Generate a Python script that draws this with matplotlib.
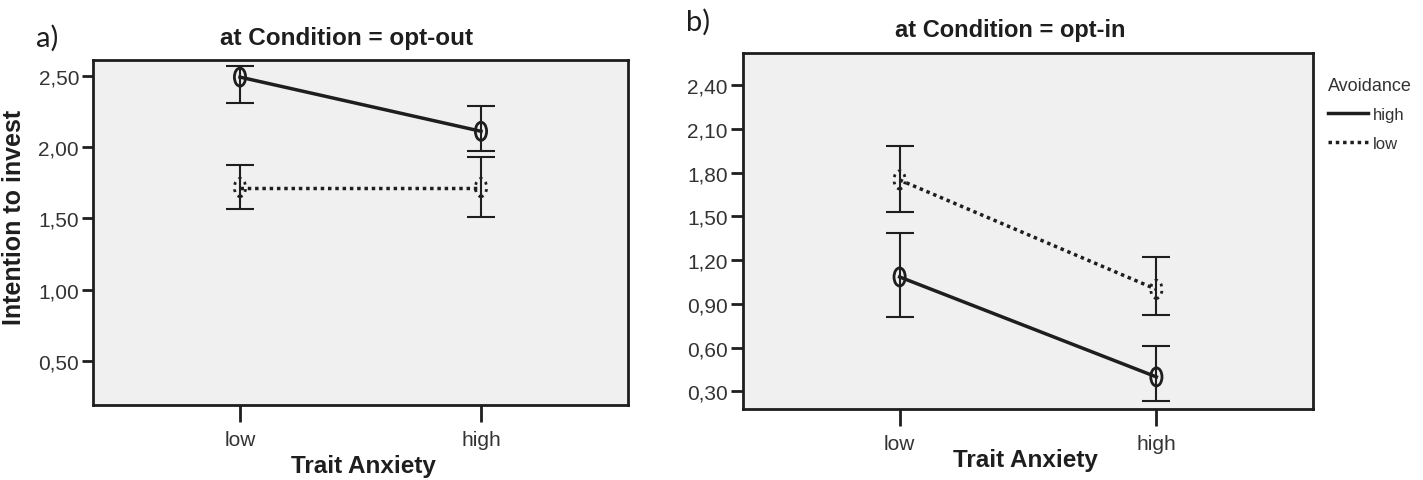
import matplotlib.pyplot as plt
from matplotlib.lines import Line2D
from matplotlib.path import Path

# categories on the x axis
anxiety = ["low", "high"]

# panel a) opt-out: means and error bar ends, per avoidance group
out_high_mean = [2.49, 2.11]
out_high_lo = [2.31, 1.97]
out_high_hi = [2.57, 2.29]
out_low_mean = [1.715, 1.715]
out_low_lo = [1.565, 1.51]
out_low_hi = [1.875, 1.93]

# panel b) opt-in
in_high_mean = [1.085, 0.40]
in_high_lo = [0.81, 0.235]
in_high_hi = [1.385, 0.615]
in_low_mean = [1.75, 1.00]
in_low_lo = [1.53, 0.825]
in_low_hi = [1.98, 1.225]

yticks_a = [0.5, 1.0, 1.5, 2.0, 2.5]
ylabels_a = ["0,50", "1,00", "1,50", "2,00", "2,50"]
yticks_b = [0.3, 0.6, 0.9, 1.2, 1.5, 1.8, 2.1, 2.4]
ylabels_b = ["0,30", "0,60", "0,90", "1,20", "1,50", "1,80", "2,10", "2,40"]

W, H = 1423, 481
ink = "#1e1e1e"
grey_txt = "#333333"
bg = "#eff0ef"
plt.rcParams["font.family"] = ["Liberation Sans", "DejaVu Sans"]

# tall open ellipse like the SPSS markers
circ = Path.unit_circle()
ellipse = Path(circ.vertices * [0.62, 1.0], circ.codes)

fig = plt.figure(figsize=(W / 100, H / 100), dpi=100)


def box(l, t, r, b):
    return [l / W, 1 - b / H, (r - l) / W, (b - t) / H]


def px(x, y):
    return x / W, 1 - y / H


ax1 = fig.add_axes(box(93, 61, 628, 406))
ax2 = fig.add_axes(box(743, 54, 1313, 410))


def panel(ax, hm, hlo, hhi, lm, llo, lhi, ylim, yt, yl, ylen):
    x = [0, 1]
    ax.set_facecolor(bg)
    for lo, hi, m in ((hlo, hhi, hm), (llo, lhi, lm)):
        err = [[m[i] - lo[i] for i in x], [hi[i] - m[i] for i in x]]
        ax.errorbar(x, m, yerr=err, fmt="none", ecolor=ink, elinewidth=1.5,
                    capsize=10, capthick=1.5, zorder=2)
    ax.plot(x, hm, color=ink, lw=2.5, zorder=3)
    ax.plot(x, lm, color=ink, lw=2.5, linestyle=(0, (1, 1.1)), zorder=3)
    ax.scatter(x, hm, s=170, marker=ellipse, facecolors="none", edgecolors=ink,
               linewidths=2, zorder=4)
    ax.scatter(x, lm, s=170, marker=ellipse, facecolors="none", edgecolors=ink,
               linewidths=2, linestyles=":", zorder=4)
    ax.set_xlim(-0.61, 1.61)
    ax.set_ylim(*ylim)
    ax.set_xticks(x)
    ax.set_xticklabels(anxiety, fontsize=15, color=grey_txt)
    ax.set_yticks(yt)
    ax.set_yticklabels(yl, fontsize=15, color=grey_txt)
    ax.tick_params(axis="x", length=12, width=2, color=ink, pad=6)
    ax.tick_params(axis="y", length=ylen, width=2, color=ink, pad=2)
    for s in ax.spines.values():
        s.set_linewidth(2)
        s.set_color(ink)


panel(ax1, out_high_mean, out_high_lo, out_high_hi, out_low_mean, out_low_lo,
      out_low_hi, (0.19, 2.61), yticks_a, ylabels_a, 8)
panel(ax2, in_high_mean, in_high_lo, in_high_hi, in_low_mean, in_low_lo,
      in_low_hi, (0.18, 2.62), yticks_b, ylabels_b, 9)

# titles, panel letters and axis labels
fig.text(*px(347, 39), "at Condition = opt-out", fontsize=17.5, weight="bold",
         ha="center", va="center", color=ink)
fig.text(*px(1010, 31), "at Condition = opt-in", fontsize=17, weight="bold",
         ha="center", va="center", color=ink)
fig.text(*px(36, 38), "a)", fontsize=21, family=["Lato", "DejaVu Sans"],
         ha="left", va="center", color=ink)
fig.text(*px(686, 22), "b)", fontsize=21, family=["Lato", "DejaVu Sans"],
         ha="left", va="center", color=ink)
fig.text(*px(363, 467), "Trait Anxiety", fontsize=17.5, weight="bold",
         ha="center", va="center", color=ink)
fig.text(*px(1025, 460), "Trait Anxiety", fontsize=17.5, weight="bold",
         ha="center", va="center", color=ink)
fig.text(*px(14, 217), "Intention to invest", fontsize=18, weight="bold",
         rotation=90, ha="center", va="center", color=ink)

# legend
handles = [Line2D([], [], color=ink, lw=2.5),
           Line2D([], [], color=ink, lw=2.5, linestyle=(0, (1, 1.1)))]
leg = fig.legend(handles, ["high", "low"], title="Avoidance", loc="upper left",
                 bbox_to_anchor=px(1323, 73), frameon=False, fontsize=12,
                 title_fontsize=13, handlelength=2.4, handletextpad=0.3,
                 labelspacing=0.8, alignment="left", borderaxespad=0,
                 borderpad=0.3)
for t in leg.get_texts():
    t.set_color(grey_txt)
leg.get_title().set_color(grey_txt)

fig.savefig("out.png", dpi=100)
